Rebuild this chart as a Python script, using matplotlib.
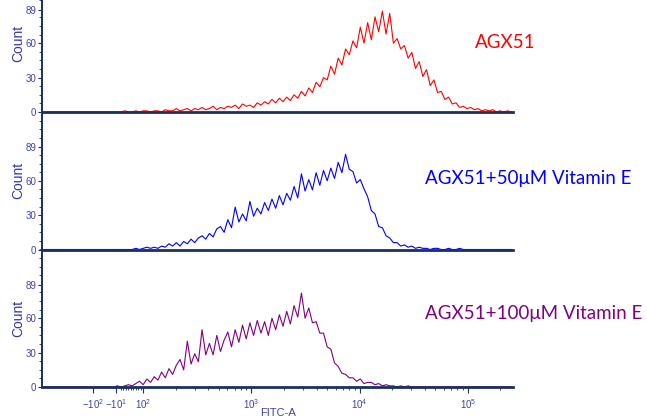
import numpy as np
import matplotlib
matplotlib.use('Agg')
import matplotlib.pyplot as plt
from matplotlib.ticker import FixedLocator, NullFormatter

plt.rcParams['font.family'] = ['Liberation Sans', 'DejaVu Sans']
plt.rcParams['mathtext.default'] = 'regular'

# FITC-A display range (logicle style axis) and number of histogram channels
x_min, x_max = -297, 262144
n_channels = 128

red_counts = [0] * 20 + [
    0, 0, 1, 0, 0, 1, 0, 1, 1, 0, 1,
    1, 0, 2, 1, 1, 3, 1, 2, 3, 1,
    3, 2, 4, 2, 3, 5, 2, 4, 3, 5,
    4, 6, 3, 7, 5, 6, 4, 8, 6, 9,
    7, 11, 8, 12, 9, 13, 10, 15, 12, 18,
    14, 21, 17, 26, 22, 30, 28, 40, 33, 47,
    41, 55, 50, 62, 56, 74, 60, 78, 63, 83,
    70, 88, 68, 86, 60, 64, 55, 58, 47, 52,
    38, 44, 31, 37, 23, 28, 17, 18, 11, 13,
    7, 8, 4, 5, 3, 4, 2, 3, 1, 2,
    1, 2, 0, 1, 0, 1, 0]

blue_counts = [0] * 24 + [
    0, 1, 0, 1, 2, 1, 2, 1, 3, 2,
    5, 3, 6, 3, 7, 5, 9, 6, 10, 12,
    9, 14, 11, 18, 20, 15, 26, 19, 37, 24,
    31, 25, 42, 29, 36, 31, 41, 34, 44, 36,
    47, 39, 49, 43, 55, 45, 66, 51, 61, 52,
    67, 56, 69, 60, 71, 62, 76, 67, 83, 70,
    68, 58, 61, 53, 46, 34, 31, 20, 19, 12,
    10, 6, 6, 3, 4, 2, 3, 1, 2, 1,
    1, 0, 1, 1, 0, 0, 1, 0, 0, 1, 0] + [0] * 13

purple_counts = [0] * 19 + [
    0, 1, 0, 1, 2, 1, 3, 5, 2, 7,
    4, 9, 6, 13, 8, 16, 11, 19, 24, 15,
    40, 20, 29, 22, 50, 28, 38, 28, 45, 31,
    41, 48, 35, 50, 39, 54, 42, 56, 45, 58,
    47, 57, 45, 60, 50, 63, 53, 66, 55, 71,
    61, 82, 60, 69, 56, 57, 47, 47, 35, 33,
    21, 18, 12, 11, 8, 8, 5, 7, 3, 4,
    4, 2, 3, 1, 2, 1, 1, 0, 1, 0,
    1] + [0] * 28

samples = ['AGX51', 'AGX51+50μM Vitamin E', 'AGX51+100μM Vitamin E']
colors = ['#ff0000', '#0000ff', '#800080']

major_x = [-100, -10, 100, 1000, 10000, 100000]
major_x_labels = ['$-10^2$', '$-10^1$', '$10^2$', '$10^3$', '$10^4$', '$10^5$']
y_ticks = [0, 30, 60, 89]

navy = '#1b3060'
tick_blue = '#4343a8'


def fwd(x):
    # linear around zero, log above |100|
    x = np.asarray(x, dtype=float)
    a = np.maximum(np.abs(x), 100.0)
    return np.where(np.abs(x) <= 100, 0.25 * x,
                    np.sign(x) * (25 + 108 * np.log10(a / 100)))


def inv(d):
    d = np.asarray(d, dtype=float)
    a = np.clip(np.abs(d), 25.0, 2000.0)
    return np.where(np.abs(d) <= 25, d / 0.25,
                    np.sign(d) * 100 * 10 ** ((a - 25) / 108))


edges = np.linspace(fwd(x_min), fwd(x_max), n_channels + 1)
channels = inv((edges[:-1] + edges[1:]) / 2)

minor_x = list(range(10, 100, 10))
for dec in [100, 1000, 10000]:
    minor_x += [k * dec for k in range(2, 10)]
minor_x += [200000]

fig = plt.figure(figsize=(6.47, 4.20), dpi=100)

left, width = 42 / 647, 471 / 647
height = 138 / 420
bottoms = [(420 - 112) / 420, (420 - 249.5) / 420, 33 / 420]
label_y = [43, 178, 313]
label_x = [475, 425, 425]

for i, (counts, name, col) in enumerate(zip([red_counts, blue_counts, purple_counts], samples, colors)):
    ax = fig.add_axes([left, bottoms[i], width, height])
    ax.set_xscale('function', functions=(fwd, inv))
    ax.plot(channels, counts, color=col, lw=0.8)
    ax.set_xlim(x_min, x_max)
    ax.set_ylim(0, 120.4)

    for s in ['top', 'right']:
        ax.spines[s].set_visible(False)
    ax.spines['left'].set_color(navy)
    ax.spines['left'].set_linewidth(1.4)
    ax.spines['bottom'].set_color(navy)
    ax.spines['bottom'].set_linewidth(2.0)

    ax.yaxis.set_major_locator(FixedLocator(y_ticks))
    ax.yaxis.set_minor_locator(FixedLocator([v for v in np.arange(0, 121, 7.5) if v not in (0, 30, 60, 90)]))
    ax.tick_params(axis='y', which='major', length=3, width=0.8, color=navy,
                   labelsize=7, labelcolor=tick_blue, pad=1)
    ax.tick_params(axis='y', which='minor', length=2, width=0.6, color=navy)
    ax.set_ylabel('Count', color='#3535b0', fontsize=10)
    ax.yaxis.set_label_coords(-0.036, 0.5)

    ax.xaxis.set_major_locator(FixedLocator(major_x))
    ax.xaxis.set_minor_locator(FixedLocator(minor_x))
    ax.xaxis.set_minor_formatter(NullFormatter())
    if i < 2:
        ax.tick_params(axis='x', which='both', bottom=False, labelbottom=False)
    else:
        ax.set_xticklabels(major_x_labels)
        ax.tick_params(axis='x', which='major', length=4, width=0.8, color=navy,
                       labelsize=7, labelcolor=tick_blue, pad=3)
        ax.tick_params(axis='x', which='minor', length=2.5, width=0.6, color=navy)
    ax.patch.set_alpha(0)

    fig.text(label_x[i] / 647, 1 - label_y[i] / 420, name, color=col,
             fontsize=13.5, family=['Lato', 'DejaVu Sans'], va='center', ha='left')

fig.text(278 / 647, 1 - 413 / 420, 'FITC-A', color=tick_blue, fontsize=8,
         ha='center', va='center')

fig.savefig('out.png', dpi=100)
